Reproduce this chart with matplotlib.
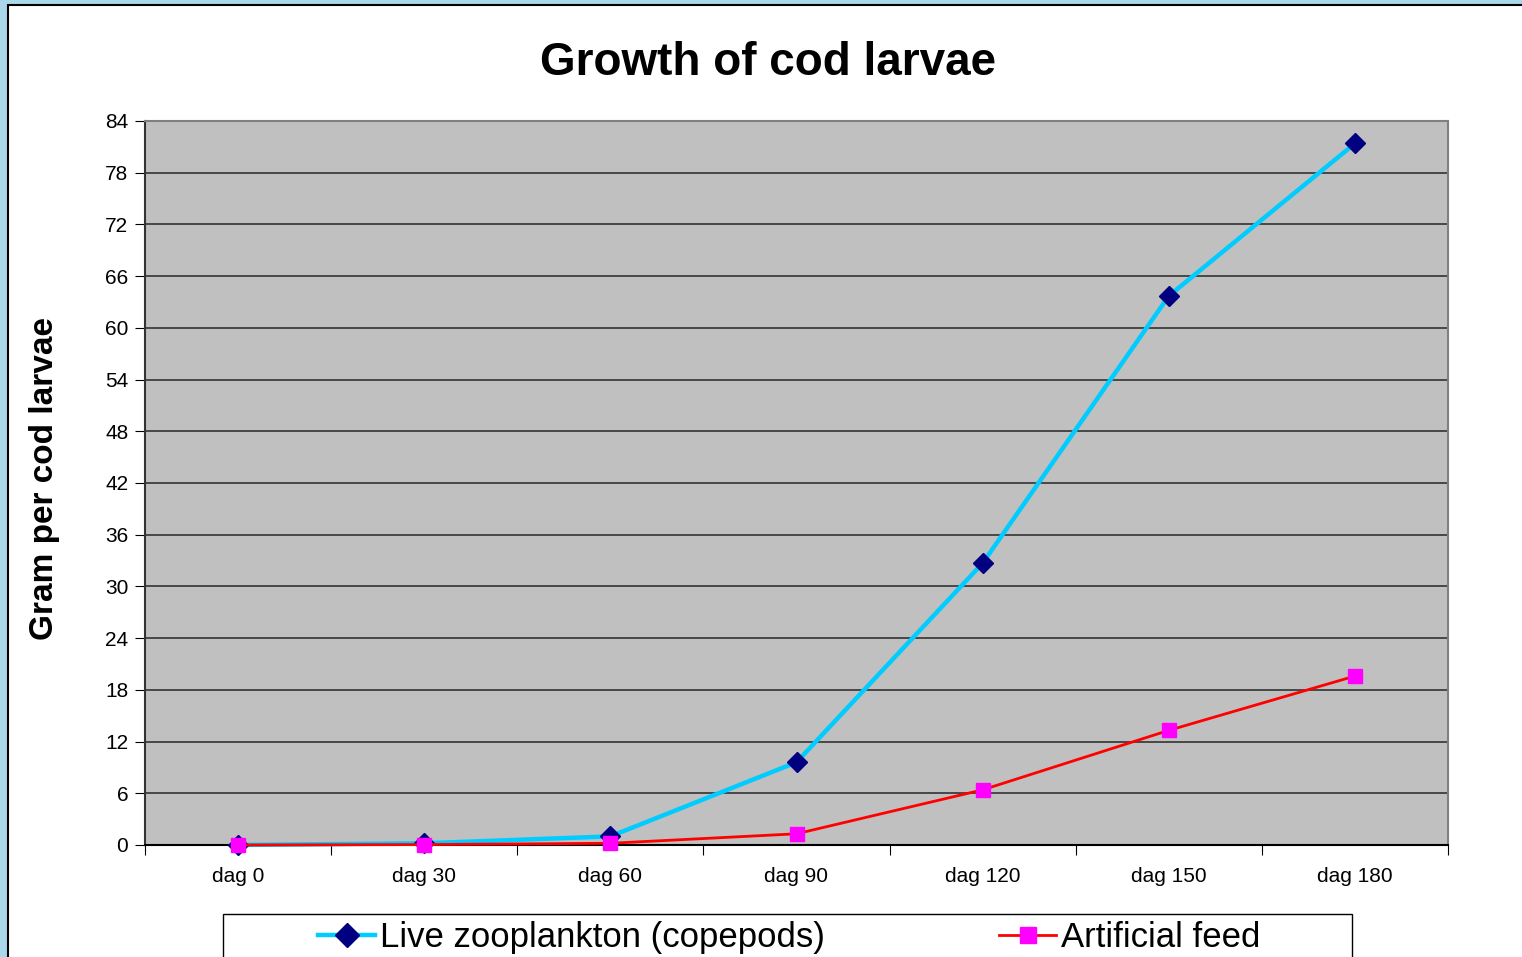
import matplotlib.pyplot as plt
from matplotlib.patches import Rectangle
from matplotlib.lines import Line2D

# --- Data ---
days = ["dag 0", "dag 30", "dag 60", "dag 90", "dag 120", "dag 150", "dag 180"]
live_zooplankton = [0.0, 0.2, 1.0, 9.6, 32.7, 63.7, 81.4]
artificial_feed = [0.0, 0.05, 0.2, 1.3, 6.4, 13.3, 19.6]
yticks = list(range(0, 85, 6))

plt.rcParams["font.family"] = ["Liberation Sans", "DejaVu Sans"]

W, H = 1522, 957
fig = plt.figure(figsize=(W / 100, H / 100), dpi=100)
fig.patch.set_facecolor("#a9d8ea")

# white slide panel with black border on left/top
panel = Rectangle((8 / W, -0.01), 1.0, 1.01 - 5 / H, transform=fig.transFigure,
                  facecolor="white", edgecolor="black", linewidth=1.5, zorder=-5)
fig.patches.append(panel)

ax = fig.add_axes([145 / W, 1 - 845 / H, (1448 - 145) / W, (845 - 121) / H])
ax.set_facecolor("#c0c0c0")

x = list(range(len(days)))
ax.plot(x, live_zooplankton, color="#00ccff", linewidth=3.2, marker="D",
        markersize=10, markerfacecolor="#000080", markeredgecolor="#000080",
        zorder=3, clip_on=False)
ax.plot(x, artificial_feed, color="#ff0000", linewidth=2.0, marker="s",
        markersize=10, markerfacecolor="#ff00ff", markeredgecolor="#ff00ff",
        zorder=4, clip_on=False)

ax.set_xlim(-0.5, len(days) - 0.5)
ax.set_ylim(0, 84)
ax.set_yticks(yticks)
# category boundaries get the tick marks, labels sit in the middle
ax.set_xticks([i - 0.5 for i in range(len(days) + 1)])
ax.set_xticklabels([])
ax.set_xticks(x, minor=True)
ax.set_xticklabels(days, minor=True, fontsize=15)
ax.tick_params(axis="x", which="minor", length=0, pad=16)
ax.tick_params(axis="x", which="major", length=7, direction="out", color="black")
ax.tick_params(axis="y", length=7, direction="out", labelsize=15, pad=5)

ax.grid(axis="y", color="#333333", linewidth=1.2)
ax.set_axisbelow(True)
ax.spines["left"].set_color("#333333")
ax.spines["bottom"].set_color("black")
ax.spines["top"].set_color("#808080")
ax.spines["right"].set_color("#808080")
for s in ax.spines.values():
    s.set_linewidth(1.5)

fig.text(768 / W, 1 - 63 / H, "Growth of cod larvae", ha="center", va="center",
         fontsize=33, fontweight="bold")
fig.text(45 / W, 1 - 478 / H, "Gram per cod larvae", ha="center", va="center",
         rotation=90, fontsize=24, fontweight="bold")

# legend box (runs off the bottom of the picture, like the reference)
box = Rectangle((223 / W, -0.02), (1352 - 223) / W, 0.02 + 1 - 914 / H,
                transform=fig.transFigure, facecolor="white",
                edgecolor="black", linewidth=1.0, zorder=1)
fig.patches.append(box)

handles = [
    Line2D([], [], color="#00ccff", linewidth=3.2, marker="D", markersize=12,
           markerfacecolor="#000080", markeredgecolor="#000080"),
    Line2D([], [], color="#ff0000", linewidth=2.0, marker="s", markersize=11,
           markerfacecolor="#ff00ff", markeredgecolor="#ff00ff"),
]
leg = fig.legend(handles, ["Live zooplankton (copepods)", "Artificial feed"],
                 loc="upper left", bbox_to_anchor=(318 / W, 1 - 921 / H),
                 ncol=2, frameon=False, fontsize=25,
                 handlelength=1.65, handletextpad=0.15, columnspacing=5.0,
                 borderpad=0.0, borderaxespad=0.0)
leg.set_zorder(2)

fig.savefig("out.png", dpi=100, facecolor=fig.get_facecolor())
